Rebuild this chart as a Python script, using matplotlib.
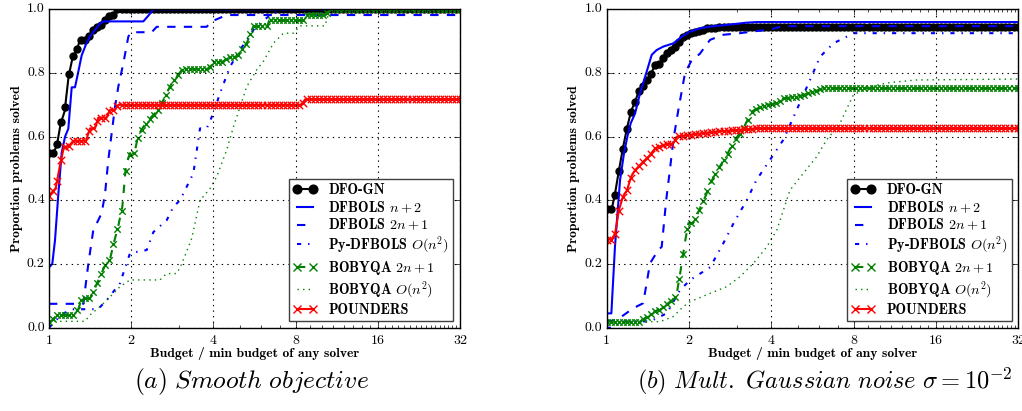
import numpy as np
import matplotlib
matplotlib.use("Agg")
import matplotlib.pyplot as plt
from matplotlib.lines import Line2D
from matplotlib.markers import MarkerStyle
from matplotlib.path import Path
from matplotlib.patheffects import AbstractPathEffect, Normal
from matplotlib.ticker import NullFormatter
from matplotlib.transforms import Affine2D, IdentityTransform

# ---- data: (a) smooth objective ----
smooth_dfogn_x = [1.0, 1.037, 1.067, 1.103, 1.141, 1.18, 1.221, 1.263, 1.299, 1.34, 1.382,
                  1.433, 1.495, 1.559, 1.604, 1.659, 1.72, 1.769, 32]
smooth_dfogn_y = [0.55, 0.55, 0.57, 0.64, 0.68, 0.79, 0.85, 0.87, 0.905, 0.905, 0.905,
                  0.93, 0.945, 0.95, 0.965, 0.98, 0.98, 1.0, 1.0]

smooth_np2_x = [1.0, 1.028, 1.052, 1.082, 1.113, 1.145, 1.177, 1.211, 1.245, 1.281, 1.317,
                1.366, 1.413, 1.474, 1.537, 1.581, 2.216, 2.311, 2.41, 32]
smooth_np2_y = [0.19, 0.20, 0.275, 0.42, 0.55, 0.60, 0.625, 0.755, 0.755, 0.805, 0.855,
                0.89, 0.915, 0.935, 0.955, 0.962, 0.962, 0.98, 1.0, 1.0]

smooth_2np1_x = [1.0, 1.336, 1.355, 1.393, 1.453, 1.516, 1.559, 1.604, 1.649, 1.696, 1.745,
                 1.794, 1.871, 1.952, 1.997, 2.377, 2.479, 3.779, 3.942, 4.474, 32]
smooth_2np1_y = [0.075, 0.075, 0.118, 0.20, 0.307, 0.338, 0.36, 0.42, 0.527, 0.61, 0.694,
                 0.757, 0.83, 0.914, 0.928, 0.928, 0.945, 0.945, 0.962, 0.982, 0.982]

smooth_py_x = [1.0, 1.08, 1.13, 1.22, 1.51, 1.63, 1.82, 1.98, 2.28, 2.41, 2.70, 2.854,
               3.018, 3.378, 3.573, 3.779, 3.998, 4.228, 4.602, 5.006, 5.601, 6.094,
               6.632, 7.214, 32]
smooth_py_y = [0.0, 0.03, 0.045, 0.058, 0.058, 0.087, 0.14, 0.234, 0.244, 0.30, 0.338, 0.38,
               0.40, 0.485, 0.626, 0.626, 0.673, 0.736, 0.82, 0.872, 0.935, 0.966,
               0.987, 1.0, 1.0]

smooth_bq2_x = [1.0, 1.02, 1.067, 1.228, 1.28, 1.318, 1.413, 1.453, 1.537, 1.627, 1.673,
                1.72, 1.794, 1.856, 1.914, 1.98, 2.054, 2.124, 2.216, 2.377, 2.514, 2.622,
                2.813, 2.934, 3.087, 3.832, 4.053, 4.349, 4.538, 4.867, 5.296, 5.601,
                6.3, 6.4, 8.7, 8.8, 10.3, 10.69, 32]
smooth_bq2_y = [0.019, 0.02, 0.04, 0.04, 0.058, 0.092, 0.092, 0.113, 0.16, 0.207, 0.215,
                0.26, 0.32, 0.38, 0.51, 0.548, 0.548, 0.605, 0.631, 0.663, 0.684, 0.715,
                0.768, 0.788, 0.813, 0.813, 0.836, 0.836, 0.851, 0.851, 0.893, 0.946,
                0.946, 0.965, 0.965, 0.983, 0.983, 1.0, 1.0]

smooth_bqsq_x = [1.0, 1.355, 1.413, 1.537, 1.673, 1.82, 1.98, 2.549, 2.697, 2.934, 3.061,
                 3.331, 3.573, 3.888, 4.112, 4.474, 4.733, 5.296, 5.761, 6.094, 6.632,
                 7.214, 7.848, 8.305, 10.25, 10.69, 32]
smooth_bqsq_y = [0.02, 0.02, 0.04, 0.066, 0.097, 0.129, 0.15, 0.15, 0.17, 0.17, 0.20,
                 0.28, 0.40, 0.437, 0.474, 0.558, 0.63, 0.757, 0.81, 0.836, 0.893,
                 0.925, 0.925, 0.948, 0.948, 1.0, 1.0]

smooth_pound_x = [1.0, 1.058, 1.097, 1.135, 1.177, 1.228, 1.366, 1.413, 1.474, 1.516, 1.627,
                  1.673, 1.745, 1.794, 8.42, 8.66, 32]
smooth_pound_y = [0.415, 0.438, 0.51, 0.569, 0.569, 0.587, 0.587, 0.626, 0.626, 0.66, 0.66,
                  0.684, 0.684, 0.70, 0.70, 0.717, 0.717]

# ---- data: (b) multiplicative gaussian noise ----
noisy_dfogn_x = [1.0, 1.043, 1.073, 1.109, 1.147, 1.187, 1.228, 1.27, 1.313, 1.358, 1.404,
                 1.452, 1.502, 1.567, 1.62, 1.685, 1.753, 1.828, 1.88, 1.961, 2.045, 2.133,
                 2.225, 2.321, 2.525, 2.987, 32]
noisy_dfogn_y = [0.372, 0.372, 0.422, 0.495, 0.565, 0.628, 0.68, 0.71, 0.745, 0.76, 0.778,
                 0.797, 0.825, 0.83, 0.851, 0.867, 0.877, 0.893, 0.909, 0.919, 0.925, 0.928,
                 0.933, 0.94, 0.943, 0.945, 0.945]

noisy_np2_x = [1.0, 1.04, 1.072, 1.119, 1.157, 1.19, 1.224, 1.27, 1.324, 1.4, 1.461, 1.523,
               1.611, 1.753, 1.88, 2.017, 2.194, 2.387, 2.746, 3.249, 3.535, 32]
noisy_np2_y = [0.045, 0.045, 0.254, 0.464, 0.548, 0.60, 0.642, 0.673, 0.736, 0.804, 0.857,
               0.872, 0.883, 0.893, 0.914, 0.93, 0.94, 0.946, 0.951, 0.958, 0.96, 0.96]

noisy_2np1_x = [1.0, 1.088, 1.25, 1.36, 1.44, 1.544, 1.589, 1.65, 1.705, 1.753, 1.828, 1.934,
                2.045, 2.19, 2.387, 2.67, 3.07, 3.96, 4.41, 32]
noisy_2np1_y = [0.02, 0.024, 0.061, 0.077, 0.202, 0.244, 0.254, 0.40, 0.50, 0.59, 0.684, 0.80,
                0.84, 0.86, 0.904, 0.92, 0.925, 0.937, 0.947, 0.947]

noisy_py_x = [1.0, 1.06, 1.119, 1.3, 1.44, 1.658, 1.853, 2.02, 2.39, 2.67, 2.91, 3.25, 3.53,
              3.955, 4.424, 4.952, 5.54, 6.03, 6.74, 8.0, 32]
noisy_py_y = [0.0, 0.0, 0.02, 0.02, 0.02, 0.045, 0.118, 0.15, 0.19, 0.265, 0.328, 0.40,
              0.464, 0.527, 0.59, 0.684, 0.778, 0.851, 0.893, 0.925, 0.925]

noisy_bq2_x = [1.0, 1.32, 1.38, 1.48, 1.567, 1.658, 1.73, 1.80, 1.853, 1.934, 1.989, 2.07,
               2.14, 2.23, 2.31, 2.39, 2.525, 2.633, 2.746, 2.946, 3.16, 3.39, 3.585, 3.846,
               4.183, 4.424, 4.952, 5.238, 5.697, 6.197, 32]
noisy_bq2_y = [0.019, 0.019, 0.03, 0.05, 0.056, 0.074, 0.085, 0.103, 0.166, 0.27, 0.328,
               0.328, 0.354, 0.39, 0.417, 0.453, 0.49, 0.516, 0.542, 0.59, 0.626, 0.679,
               0.69, 0.70, 0.705, 0.72, 0.726, 0.731, 0.741, 0.752, 0.752]

noisy_bqsq_x = [1.0, 1.567, 1.75, 1.906, 2.02, 2.39, 2.75, 3.07, 3.44, 3.85, 4.19, 4.681,
                5.238, 5.86, 6.373, 7.131, 7.978, 8.677, 9.708, 10.86, 13.6, 32]
noisy_bqsq_y = [0.019, 0.019, 0.035, 0.066, 0.082, 0.108, 0.129, 0.16, 0.202, 0.254, 0.307,
                0.432, 0.485, 0.537, 0.59, 0.642, 0.731, 0.747, 0.762, 0.77, 0.778, 0.781]

noisy_pound_x = [1.0, 1.043, 1.073, 1.109, 1.147, 1.187, 1.228, 1.27, 1.324, 1.381, 1.44,
                 1.502, 1.611, 1.753, 1.803, 1.961, 2.194, 2.525, 2.987, 3.535, 32]
noisy_pound_y = [0.277, 0.277, 0.296, 0.37, 0.412, 0.432, 0.474, 0.495, 0.511, 0.527, 0.542,
                 0.563, 0.574, 0.579, 0.60, 0.605, 0.61, 0.616, 0.621, 0.626, 0.626]

labels = ["DFO-GN", r"DFBOLS $n+2$", r"DFBOLS $2n+1$", r"Py-DFBOLS $O(n^2)$",
          r"BOBYQA $2n+1$", r"BOBYQA $O(n^2)$", "POUNDERS"]
x_ticks = [1, 2, 4, 8, 16, 32]
x_tick_labels = ["1", "2", "4", "8", "16", "32"]
y_ticks = [0.0, 0.2, 0.4, 0.6, 0.8, 1.0]
y_tick_labels = ["0.0", "0.2", "0.4", "0.6", "0.8", "1.0"]


class MarkerTrail(AbstractPathEffect):
    """Repeat a marker along a drawn line, evenly spaced in screen x."""

    def __init__(self, marker, size, spacing, color, mew=1.0, filled=False):
        super().__init__()
        self.marker = MarkerStyle(marker)
        self.size = size
        self.spacing = spacing
        self.color = color
        self.mew = mew
        self.filled = filled

    def draw_path(self, renderer, gc, tpath, affine, rgbFace=None):
        xy = affine.transform(tpath.vertices)
        step = renderer.points_to_pixels(self.spacing)
        xs = np.arange(xy[0, 0], xy[-1, 0] + 0.5 * step, step)
        ys = np.interp(xs, xy[:, 0], xy[:, 1])
        size_px = renderer.points_to_pixels(self.size)
        mtrans = self.marker.get_transform() + Affine2D().scale(size_px)
        gc0 = renderer.new_gc()
        gc0.copy_properties(gc)
        gc0.set_dashes(0, None)
        gc0.set_linewidth(self.mew)
        gc0.set_foreground(self.color)
        face = matplotlib.colors.to_rgb(self.color) if self.filled else None
        renderer.draw_markers(gc0, self.marker.get_path(), mtrans,
                              Path(np.column_stack([xs, ys])), IdentityTransform(), face)
        gc0.restore()


styles = [
    dict(color="k", ls="-", lw=1.5),
    dict(color="b", ls="-", lw=1.5),
    dict(color="b", ls="--", lw=1.5),
    dict(color="b", ls="-.", lw=1.5),
    dict(color="g", ls="--", lw=1.5),
    dict(color="g", ls=":", lw=1.0),
    dict(color="r", ls="-", lw=1.5),
]
trails = [
    dict(marker="o", size=5.0, color="k", filled=True),
    None, None, None,
    dict(marker="x", size=4.6, color="g"),
    None,
    dict(marker="x", size=4.6, color="r"),
]
marker_spacing = 2.9  # points between samples along x

plt.style.use("classic")
plt.rcParams.update({
    "font.family": "serif",
    "font.serif": ["cmr10"],
    "mathtext.fontset": "cm",
    "axes.unicode_minus": False,
    "figure.facecolor": "white",
    "savefig.facecolor": "white",
    "xtick.labelsize": 10,
    "ytick.labelsize": 10,
})


def draw_panel(ax, series):
    handles = []
    for (x, y), label, st, tr in zip(series, labels, styles, trails):
        line, = ax.plot(x, y, **st)
        hkw = dict(st)
        if tr is not None:
            line.set_path_effects([Normal(), MarkerTrail(tr["marker"], tr["size"], marker_spacing,
                                                         tr["color"], filled=tr.get("filled", False))])
            hkw.update(marker=tr["marker"], ms=tr["size"] * 1.25, mec=tr["color"],
                       mfc=tr["color"], mew=1.0)
        handles.append(Line2D([], [], **hkw))
    ax.set_xscale("log", base=2)
    ax.set_xlim(1, 32)
    ax.set_ylim(0, 1)
    ax.set_xticks(x_ticks, x_tick_labels)
    ax.set_xticks([v for v in range(3, 32) if v not in x_ticks], minor=True)
    ax.xaxis.set_minor_formatter(NullFormatter())
    ax.set_yticks(y_ticks, y_tick_labels)
    ax.grid(True, which="major", color="k", ls=":", lw=0.8)
    ax.tick_params(which="major", length=4, direction="in", top=True, right=True)
    ax.tick_params(which="minor", length=2, direction="in", top=True, right=True)
    ax.tick_params(axis="x", pad=5)
    ax.tick_params(axis="y", pad=3)
    ax.set_xlabel("Budget / min budget of any solver", fontfamily="cmb10", fontsize=9.8,
                  labelpad=0)
    ax.set_ylabel("Proportion problems solved", fontfamily="cmb10", fontsize=9.8, labelpad=3)
    leg = ax.legend(handles, labels, loc="lower right", bbox_to_anchor=(0.984, 0.021),
                    borderaxespad=0, numpoints=2, handlelength=1.7, fancybox=False,
                    framealpha=1, prop={"family": "cmb10", "size": 10.2}, labelspacing=0.15,
                    borderpad=0.3, handletextpad=0.8)
    leg.get_frame().set_edgecolor("0.25")
    leg.get_frame().set_linewidth(1.0)


fig = plt.figure(figsize=(10.22, 4.11), dpi=100)
ax1 = fig.add_axes([49 / 1022, 1 - 327.7 / 411, 411 / 1022, 318.4 / 411])
ax2 = fig.add_axes([606.7 / 1022, 1 - 327.7 / 411, 411.6 / 1022, 318.4 / 411])

draw_panel(ax1, [(smooth_dfogn_x, smooth_dfogn_y), (smooth_np2_x, smooth_np2_y),
                 (smooth_2np1_x, smooth_2np1_y), (smooth_py_x, smooth_py_y),
                 (smooth_bq2_x, smooth_bq2_y), (smooth_bqsq_x, smooth_bqsq_y),
                 (smooth_pound_x, smooth_pound_y)])
draw_panel(ax2, [(noisy_dfogn_x, noisy_dfogn_y), (noisy_np2_x, noisy_np2_y),
                 (noisy_2np1_x, noisy_2np1_y), (noisy_py_x, noisy_py_y),
                 (noisy_bq2_x, noisy_bq2_y), (noisy_bqsq_x, noisy_bqsq_y),
                 (noisy_pound_x, noisy_pound_y)])

fig.text(252 / 1022, 1 - 381 / 411, r"$(a)\ Smooth\ objective$", ha="center", va="center",
         fontsize=18.4)
fig.text(825 / 1022, 1 - 381 / 411, r"$(b)\ Mult.\ Gaussian\ noise\ \sigma = 10^{-2}$",
         ha="center", va="center", fontsize=17.6)

fig.savefig("out.png", dpi=100)
